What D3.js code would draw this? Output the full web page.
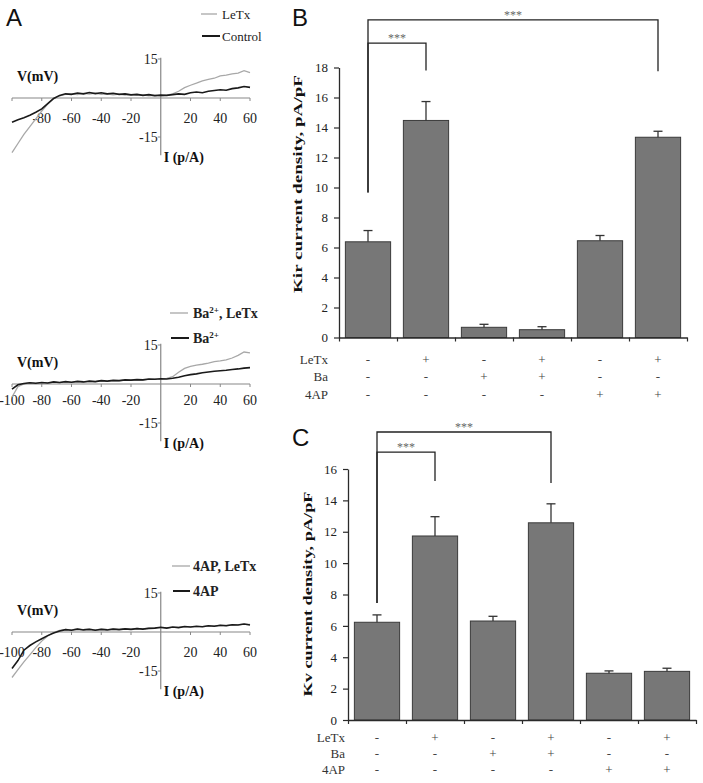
<!DOCTYPE html>
<html><head><meta charset="utf-8">
<script src="https://cdn.jsdelivr.net/npm/d3@7"></script>
<style>body{margin:0;background:#fff} svg{display:block}</style>
</head><body>
<svg id="fig" width="703" height="783"></svg>
<script>
// ---------- Panel A: I-V traces ----------
const voltage = [-100,-96,-92,-88,-84,-80,-76,-72,-68,-64,-60,-56,-52,-48,-44,-40,-36,-32,-28,-24,-20,-16,-12,-8,-4,0,4,8,12,16,20,24,28,32,36,40,44,48,52,56,60];
const ivControl = [-9.3,-8.4,-7.6,-6.6,-5.5,-4.2,-2.2,-0.2,1.0,1.6,1.4,1.9,1.6,2.1,1.7,2.0,1.6,1.8,1.4,1.6,1.2,1.4,1.0,1.3,0.9,1.1,1.0,1.3,1.6,1.4,2.0,2.3,2.0,2.6,2.9,3.2,3.0,3.6,3.9,4.4,4.1];
const ivLeTx = [-21,-17.5,-14,-11,-8,-5,-2.3,-0.3,0.8,1.4,1.6,1.3,1.8,1.5,1.9,1.4,1.6,1.2,1.5,1.1,1.3,1.0,1.2,0.8,1.0,0.8,1.1,1.6,2.6,4.0,4.9,5.7,6.6,7.2,7.6,8.5,8.8,9.3,9.6,10.5,9.8];
const ivBa = [-2,-0.3,0.2,0.5,0.3,0.6,0.4,0.8,0.6,0.9,0.7,1.0,0.8,1.1,0.9,1.3,1.1,1.4,1.3,1.6,1.5,1.7,1.6,1.9,1.8,2.0,1.9,2.2,2.6,3.2,3.6,3.9,4.3,4.6,4.9,5.1,5.3,5.6,5.8,6.1,6.3];
const ivBaLeTx = [-5,-1,0,0.4,0.2,0.5,0.3,0.7,0.5,0.8,0.6,0.9,0.7,1.0,0.9,1.2,1.0,1.3,1.2,1.5,1.4,1.6,1.5,1.8,1.9,2.0,2.2,2.8,4.5,6.0,6.8,7.3,7.6,8.0,8.6,8.9,9.3,10.0,11.0,12.3,12.0];
const iv4AP = [-14,-11,-7,-5.2,-3.8,-2.6,-1.4,-0.4,0.4,0.9,0.7,1.1,0.8,1.0,0.7,1.0,0.8,1.1,0.9,1.2,1.0,1.3,1.1,1.4,1.5,1.8,1.5,1.9,1.7,2.1,1.9,2.2,2.0,2.4,2.2,2.6,2.4,2.8,2.7,3.1,2.7];
const iv4APLeTx = [-17.5,-14.5,-11.5,-8.8,-6,-3.5,-1.5,-0.2,0.6,1.0,0.8,1.2,0.9,1.1,0.8,1.1,0.9,1.2,1.0,1.3,1.1,1.4,1.2,1.5,1.6,1.7,1.6,1.8,1.8,2.0,2.0,2.1,2.1,2.3,2.3,2.5,2.5,2.7,2.8,3.0,2.9];
const ivXTicksTop = [-80,-60,-40,-20,20,40,60];
const ivXTicks = [-100,-80,-60,-40,-20,20,40,60];
const ivYTicks = [15,-15];

// ---------- Panels B and C: bar charts ----------
const conditions = ["LeTx","Ba","4AP"];
const groups = ["1","2","3","4","5","6"];
const signLeTx = ["-","+","-","+","-","+"];
const signBa   = ["-","-","+","+","-","-"];
const sign4AP  = ["-","-","-","-","+","+"];
const kirMean = [6.38,14.47,0.68,0.52,6.45,13.35];
const kirSem  = [0.75,1.26,0.2,0.2,0.35,0.4];
const kirTicks = [0,2,4,6,8,10,12,14,16,18];
const kvMean = [6.23,11.73,6.31,12.57,2.98,3.1];
const kvSem  = [0.47,1.23,0.3,1.21,0.15,0.2];
const kvTicks = [0,2,4,6,8,10,12,14,16];

const svg = d3.select("#fig");
const SERIF = "'Liberation Serif','Times New Roman',serif";
const SANS = "'Liberation Sans',Arial,sans-serif";
const AX = "#2a2a2a";

// Panel letters
[["A",6,26],["B",292,26],["C",292,446]].forEach(([t,x,y])=>{
  svg.append("text").attr("x",x).attr("y",y).text(t)
    .attr("font-family",SANS).attr("font-size",24).attr("fill","#111");
});

function ivPanel(cfg){
  const g = svg.append("g");
  const x = d3.scaleLinear().domain([-100,60]).range([12,250]);
  const y = d3.scaleLinear().domain([0,15]).range([cfg.y0, cfg.y0-39]);
  // axes
  g.append("line").attr("x1",x(-100)).attr("x2",x(60)).attr("y1",y(0)).attr("y2",y(0))
    .attr("stroke","#888").attr("stroke-width",1.2);
  g.append("line").attr("x1",x(0)).attr("x2",x(0)).attr("y1",y(15.5)).attr("y2",y(-22))
    .attr("stroke","#888").attr("stroke-width",1.2);
  g.selectAll(".xt").data(ivXTicks).enter().append("line")
    .attr("x1",d=>x(d)).attr("x2",d=>x(d)).attr("y1",y(0)).attr("y2",y(0)+3)
    .attr("stroke","#888");
  g.selectAll(".yt").data(ivYTicks).enter().append("line")
    .attr("x1",x(0)-3).attr("x2",x(0)).attr("y1",d=>y(d)).attr("y2",d=>y(d))
    .attr("stroke","#888");
  g.selectAll(".xl").data(cfg.xTicks).enter().append("text")
    .attr("x",d=>x(d)).attr("y",y(0)+cfg.labOff).attr("dy","0.35em")
    .attr("text-anchor","middle").attr("font-family",SERIF).attr("font-size",14).attr("fill","#222")
    .text(d=>d);
  g.selectAll(".yl").data(ivYTicks).enter().append("text")
    .attr("x",x(0)-3).attr("y",d=>y(d)).attr("dy","0.35em")
    .attr("text-anchor","end").attr("font-family",SERIF).attr("font-size",14).attr("fill","#222")
    .text(d=>d);
  g.append("text").attr("x",17).attr("y",y(0)-22).attr("dy","0.35em")
    .attr("font-family",SERIF).attr("font-size",14).attr("font-weight","bold").attr("fill","#111")
    .text("V(mV)");
  g.append("text").attr("x",x(0)+3).attr("y",y(0)+59).attr("dy","0.35em")
    .attr("font-family",SERIF).attr("font-size",14).attr("font-weight","bold").attr("fill","#111")
    .text("I (p/A)");
  const line = d3.line().x((d,i)=>x(voltage[i])).y(d=>y(d));
  g.append("path").datum(cfg.grey).attr("d",line).attr("fill","none")
    .attr("stroke","#a8a8a8").attr("stroke-width",1.3);
  g.append("path").datum(cfg.black).attr("d",line).attr("fill","none")
    .attr("stroke","#1a1a1a").attr("stroke-width",1.6);
  // legend
  cfg.legend.forEach((L)=>{
    g.append("line").attr("x1",L.lx1).attr("x2",L.lx2).attr("y1",L.y).attr("y2",L.y)
      .attr("stroke",L.color).attr("stroke-width",L.w);
    const t = g.append("text").attr("x",L.tx).attr("y",L.y).attr("dy","0.35em")
      .attr("font-family",SERIF).attr("font-size",L.fs).attr("font-weight",L.bold?"bold":"normal")
      .attr("fill","#222");
    L.parts.forEach(p=>{
      const s = t.append("tspan").text(p.t);
      if(p.sup){ s.attr("dy",-5).attr("font-size",9); }
      if(p.down){ s.attr("dy",5); }
    });
  });
}

ivPanel({y0:98, labOff:20, xTicks:ivXTicksTop, grey:ivLeTx, black:ivControl,
  legend:[
    {lx1:201,lx2:217,y:14,color:"#a8a8a8",w:1.3,tx:222,fs:13,bold:false,parts:[{t:"LeTx"}]},
    {lx1:202,lx2:220,y:36,color:"#1a1a1a",w:2,tx:222,fs:13,bold:false,parts:[{t:"Control"}]}
  ]});
ivPanel({y0:384, labOff:16, xTicks:ivXTicks, grey:ivBaLeTx, black:ivBa,
  legend:[
    {lx1:170,lx2:188,y:313,color:"#a8a8a8",w:1.3,tx:193,fs:14,bold:true,parts:[{t:"Ba"},{t:"2+",sup:true},{t:", LeTx",down:true}]},
    {lx1:171,lx2:189,y:338,color:"#1a1a1a",w:2,tx:193,fs:14,bold:true,parts:[{t:"Ba"},{t:"2+",sup:true}]}
  ]});
ivPanel({y0:632, labOff:20, xTicks:ivXTicks, grey:iv4APLeTx, black:iv4AP,
  legend:[
    {lx1:172,lx2:190,y:566,color:"#a8a8a8",w:1.3,tx:193,fs:14,bold:true,parts:[{t:"4AP, LeTx"}]},
    {lx1:173,lx2:190,y:591,color:"#1a1a1a",w:2,tx:193,fs:14,bold:true,parts:[{t:"4AP"}]}
  ]});

function barPanel(cfg){
  const g = svg.append("g");
  const x = d3.scaleBand().domain(groups).range([cfg.x0,cfg.x1]).paddingInner(0.22).paddingOuter(0.11);
  const y = d3.scaleLinear().domain([0,cfg.top]).range([cfg.yZero,cfg.yTop]);
  const cx = i => x(groups[i]) + x.bandwidth()/2;
  // bars
  g.selectAll("rect").data(cfg.means).enter().append("rect")
    .attr("x",(d,i)=>x(groups[i])).attr("width",x.bandwidth())
    .attr("y",d=>y(d)).attr("height",d=>y(0)-y(d))
    .attr("fill","#777").attr("stroke","#3a3a3a").attr("stroke-width",1);
  // error bars
  cfg.means.forEach((m,i)=>{
    const top = y(m+cfg.sems[i]);
    g.append("line").attr("x1",cx(i)).attr("x2",cx(i)).attr("y1",y(m)).attr("y2",top)
      .attr("stroke","#333").attr("stroke-width",1.3);
    g.append("line").attr("x1",cx(i)-4.5).attr("x2",cx(i)+4.5).attr("y1",top).attr("y2",top)
      .attr("stroke","#333").attr("stroke-width",1.3);
  });
  // y axis
  const ya = g.append("g").attr("transform",`translate(${cfg.x0},0)`)
    .call(d3.axisLeft(y).tickValues(cfg.ticks).tickSize(5).tickSizeOuter(0).tickPadding(6));
  ya.select(".domain").attr("stroke",AX).attr("stroke-width",1.3);
  ya.selectAll(".tick line").attr("stroke",AX).attr("stroke-width",1.2);
  ya.selectAll(".tick text").attr("font-family",SERIF).attr("font-size",13).attr("fill","#222");
  // x axis with boundary ticks
  const xb = d3.scaleLinear().domain([0,6]).range([cfg.x0,cfg.x1]);
  const xa = g.append("g").attr("transform",`translate(0,${cfg.yZero})`)
    .call(d3.axisBottom(xb).tickValues(d3.range(7)).tickSize(4).tickSizeOuter(0).tickFormat(""));
  xa.select(".domain").attr("stroke",AX).attr("stroke-width",1.3);
  xa.selectAll(".tick line").attr("stroke",AX).attr("stroke-width",1.2);
  // title
  g.append("text").attr("transform",`translate(${cfg.titleX},${cfg.titleY}) rotate(-90)`)
    .attr("text-anchor","middle").attr("dy","0.35em")
    .attr("font-family",SERIF).attr("font-size",13).attr("font-weight","bold").attr("fill","#111")
    .attr("textLength",cfg.titleLen).attr("lengthAdjust","spacingAndGlyphs")
    .text(cfg.title);
  // condition rows
  const signs = [signLeTx, signBa, sign4AP];
  conditions.forEach((c,r)=>{
    g.append("text").attr("x",cfg.labelX).attr("y",cfg.rowY[r]).attr("dy","0.35em")
      .attr("text-anchor","end").attr("font-family",SERIF).attr("font-size",13).attr("fill","#333").text(c);
    signs[r].forEach((s,i)=>{
      g.append("text").attr("x",cx(i)).attr("y",cfg.rowY[r]).attr("dy","0.35em")
        .attr("text-anchor","middle").attr("font-family",SERIF).attr("font-size",13).attr("fill","#444").text(s);
    });
  });
  // significance brackets
  cfg.brackets.forEach(b=>{
    const xl = cx(b.from), xr = cx(b.to), yl = y(b.level);
    g.append("path").attr("d",`M${xl},${y(b.leftEnd)}V${yl}H${xr}V${y(b.rightEnd)}`)
      .attr("fill","none").attr("stroke","#222").attr("stroke-width",1.3);
    g.append("text").attr("x",(xl+xr)/2).attr("y",yl-1).attr("text-anchor","middle")
      .attr("font-family",SERIF).attr("font-size",12).attr("fill","#666").text("***");
  });
}

barPanel({x0:339,x1:687,yZero:337.5,yTop:67.5,top:18,ticks:kirTicks,means:kirMean,sems:kirSem,
  rowY:[359,376,394],labelX:328,title:"Kir current density, pA/pF",titleX:297,titleY:184,titleLen:218,
  brackets:[{from:0,to:5,level:21.17,leftEnd:9.67,rightEnd:17.75},
            {from:0,to:1,level:19.63,leftEnd:9.67,rightEnd:17.8}]});
barPanel({x0:348,x1:696,yZero:720,yTop:469,top:16,ticks:kvTicks,means:kvMean,sems:kvSem,
  rowY:[737,753,769],labelX:345,title:"Kv current density, pA/pF",titleX:307,titleY:594,titleLen:205,
  brackets:[{from:0,to:3,level:18.36,leftEnd:7.46,rightEnd:15.1},
            {from:0,to:1,level:17.08,leftEnd:7.46,rightEnd:15.23}]});
</script>
</body></html>
